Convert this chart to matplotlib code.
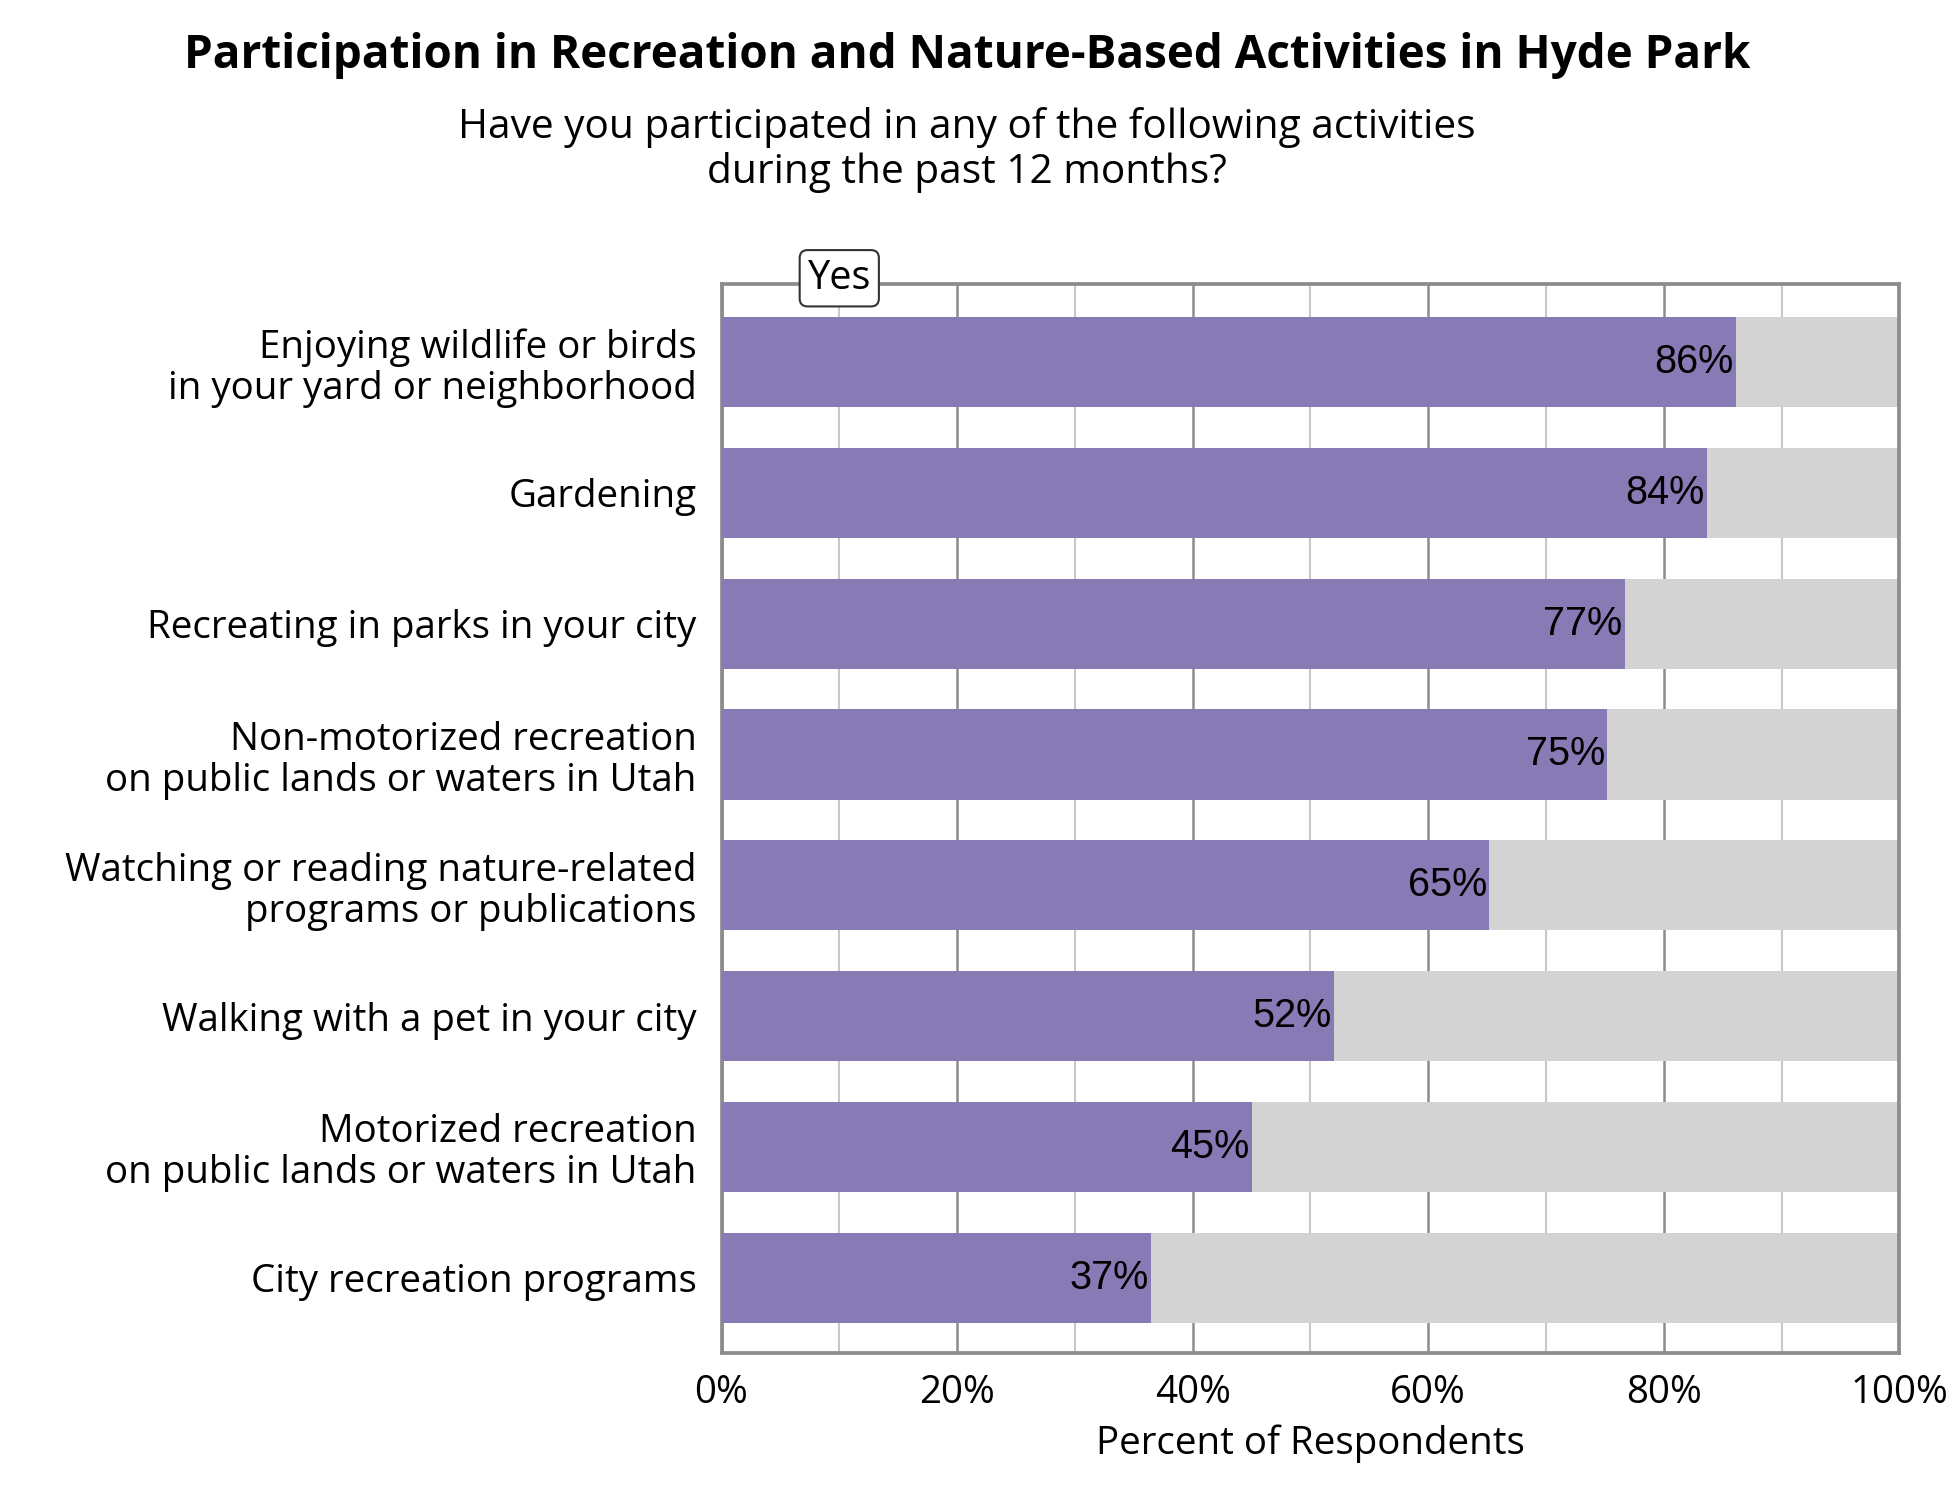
import matplotlib.pyplot as plt
from matplotlib.ticker import MultipleLocator, FuncFormatter

activities = [
    "Enjoying wildlife or birds\nin your yard or neighborhood",
    "Gardening",
    "Recreating in parks in your city",
    "Non-motorized recreation\non public lands or waters in Utah",
    "Watching or reading nature-related\nprograms or publications",
    "Walking with a pet in your city",
    "Motorized recreation\non public lands or waters in Utah",
    "City recreation programs",
]
yes_pct = [86.1, 83.7, 76.7, 75.2, 65.2, 52.0, 45.0, 36.5]
labels = ["86%", "84%", "77%", "75%", "65%", "52%", "45%", "37%"]

plt.rcParams['font.family'] = ['Open Sans', 'DejaVu Sans']

fig = plt.figure(figsize=(13, 10), dpi=150)
ax = fig.add_axes([0.370, 0.098, 0.604, 0.713])

y = list(range(len(activities)))
ax.barh(y, [100] * len(y), height=0.69, color='#d3d3d3', zorder=2)
ax.barh(y, yes_pct, height=0.69, color='#877ab5', zorder=3)
for yi, v, lab in zip(y, yes_pct, labels):
    ax.text(v - 0.2, yi, lab, ha='right', va='center', fontsize=19,
            family='Liberation Sans', color='black', zorder=4)

ax.set_xlim(0, 100)
ax.set_ylim(len(y) - 1 + 0.575, -0.6)
ax.set_yticks(y)
ax.set_yticklabels(activities, fontsize=18.5, linespacing=1.1)
ax.xaxis.set_major_locator(MultipleLocator(20))
ax.xaxis.set_minor_locator(MultipleLocator(10))
ax.xaxis.set_major_formatter(FuncFormatter(lambda v, p: f"{v:.0f}%"))
ax.tick_params(axis='x', labelsize=18.5, length=0, which='both', pad=10)
ax.tick_params(axis='y', length=0, pad=12)
ax.grid(axis='x', which='major', color='#8c8c8c', lw=1.2, zorder=0)
ax.grid(axis='x', which='minor', color='#c8c8c8', lw=1.0, zorder=0)
for s in ax.spines.values():
    s.set_color('#8c8c8c')
    s.set_linewidth(1.8)
ax.set_xlabel("Percent of Respondents", fontsize=18.5, labelpad=6)

ax.text(10, -0.64, "Yes", ha='center', va='center', fontsize=19, zorder=5,
        bbox=dict(boxstyle='round,pad=0.2', fc='white', ec='#333333', lw=1))

fig.text(0.496, 0.963, "Participation in Recreation and Nature-Based Activities in Hyde Park",
         ha='center', va='center', fontsize=22, fontweight='bold')
fig.text(0.496, 0.900, "Have you participated in any of the following activities\nduring the past 12 months?",
         ha='center', va='center', fontsize=19.5, linespacing=1.15)

fig.savefig("out.png", dpi=150)
